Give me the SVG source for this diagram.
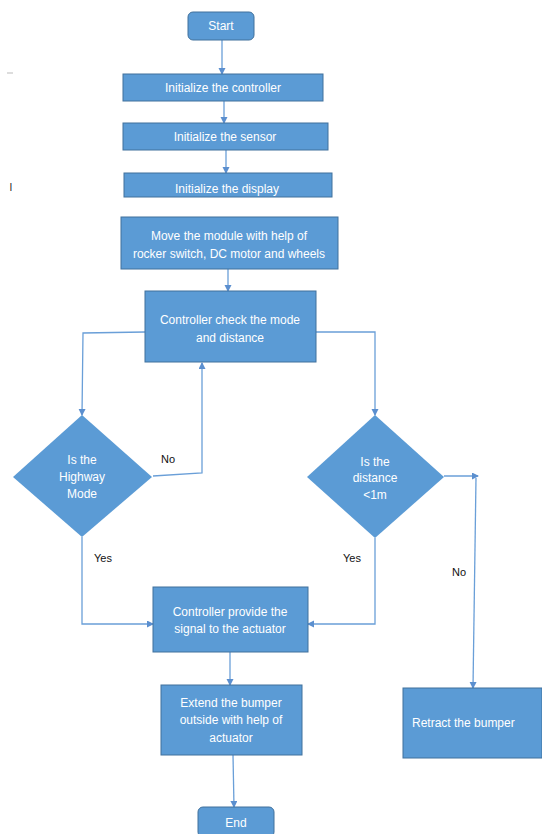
<svg xmlns="http://www.w3.org/2000/svg" width="542" height="834" viewBox="0 0 542 834">
<style>
.box{fill:#5B9BD5;stroke:#41719C;stroke-width:1}
.t{font-family:"Liberation Sans",Arial,sans-serif;font-size:12px;fill:#ffffff;text-anchor:middle}
.lbl{font-family:"Liberation Sans",Arial,sans-serif;font-size:11px;fill:#111111;text-anchor:middle}
.ln{fill:none;stroke:#6A9FD8;stroke-width:1.3}
</style>
<defs>
<marker id="ah" markerWidth="8" markerHeight="8" refX="6" refY="3.5" orient="auto" markerUnits="userSpaceOnUse">
<path d="M0,0 L7,3.5 L0,7 Z" fill="#5B8FCF"/>
</marker>
</defs>
<rect width="542" height="834" fill="#ffffff"/>
<line x1="7" y1="73" x2="13" y2="73" stroke="#bbbbbb" stroke-width="1"/>
<text x="11" y="191" font-family="Liberation Sans, Arial, sans-serif" font-size="10" fill="#222" text-anchor="middle">I</text>
<g id="connectors">
<line class="ln" x1="222" y1="40" x2="222" y2="74" marker-end="url(#ah)"/>
<line class="ln" x1="224" y1="101" x2="224" y2="123" marker-end="url(#ah)"/>
<line class="ln" x1="226" y1="150" x2="226" y2="173" marker-end="url(#ah)"/>
<line class="ln" x1="228" y1="269" x2="228" y2="291" marker-end="url(#ah)"/>
<polyline class="ln" points="145,332 83,333 82,415" marker-end="url(#ah)"/>
<polyline class="ln" points="316,332 375,332 375,415" marker-end="url(#ah)"/>
<polyline class="ln" points="153,476 202,473 202,363" marker-end="url(#ah)"/>
<line class="ln" x1="444" y1="476" x2="478" y2="476" marker-end="url(#ah)"/>
<line class="ln" x1="476" y1="478" x2="473" y2="688" marker-end="url(#ah)"/>
<polyline class="ln" points="82,537 82,624 153,624" marker-end="url(#ah)"/>
<polyline class="ln" points="375,538 375,624 308,624" marker-end="url(#ah)"/>
<line class="ln" x1="230" y1="652" x2="230" y2="685" marker-end="url(#ah)"/>
<line class="ln" x1="233" y1="755" x2="234" y2="807" marker-end="url(#ah)"/>
</g>
<g id="start"><rect class="box" x="188" y="12" width="66" height="28" rx="5"/><text class="t" x="221" y="30">Start</text></g>
<g id="init-controller"><rect class="box" x="123" y="74" width="200" height="27"/><text class="t" x="223" y="92">Initialize the controller</text></g>
<g id="init-sensor"><rect class="box" x="123" y="123" width="205" height="27"/><text class="t" x="225" y="141">Initialize the sensor</text></g>
<g id="init-display"><rect class="box" x="124" y="173" width="208" height="24"/><text class="t" x="227" y="193">Initialize the display</text></g>
<g id="move-module"><rect class="box" x="121" y="217" width="217" height="52"/><text class="t" x="229" y="240">Move the module with help of</text><text class="t" x="229" y="258">rocker switch, DC motor and wheels</text></g>
<g id="check-mode"><rect class="box" x="145" y="291" width="171" height="71"/><text class="t" x="230" y="324">Controller check the mode</text><text class="t" x="230" y="342">and distance</text></g>
<g id="highway"><polygon class="box" points="82,415 152,477 82,537 13,477" style="stroke:none"/><text class="t" x="82" y="464">Is the</text><text class="t" x="82" y="481">Highway</text><text class="t" x="82" y="498">Mode</text></g>
<g id="distance"><polygon class="box" points="375,415 444,477 375,538 307,477" style="stroke:none"/><text class="t" x="375" y="466">Is the</text><text class="t" x="375" y="482">distance</text><text class="t" x="375" y="499">&lt;1m</text></g>
<g id="labels">
<text class="lbl" x="168" y="463">No</text>
<text class="lbl" x="103" y="562">Yes</text>
<text class="lbl" x="352" y="562">Yes</text>
<text class="lbl" x="459" y="576">No</text>
</g>
<g id="provide-signal"><rect class="box" x="153" y="587" width="155" height="65"/><text class="t" x="230" y="616">Controller provide the</text><text class="t" x="230" y="633">signal to the actuator</text></g>
<g id="extend-bumper"><rect class="box" x="161" y="685" width="141" height="70"/><text class="t" x="231" y="707">Extend the bumper</text><text class="t" x="231" y="724">outside with help of</text><text class="t" x="231" y="742">actuator</text></g>
<g id="retract-bumper"><rect class="box" x="403" y="688" width="139" height="70"/><text class="t" x="412" y="727" style="text-anchor:start">Retract the bumper</text></g>
<g id="end"><rect class="box" x="198" y="807" width="76" height="30" rx="5"/><text class="t" x="236" y="827">End</text></g>
</svg>
